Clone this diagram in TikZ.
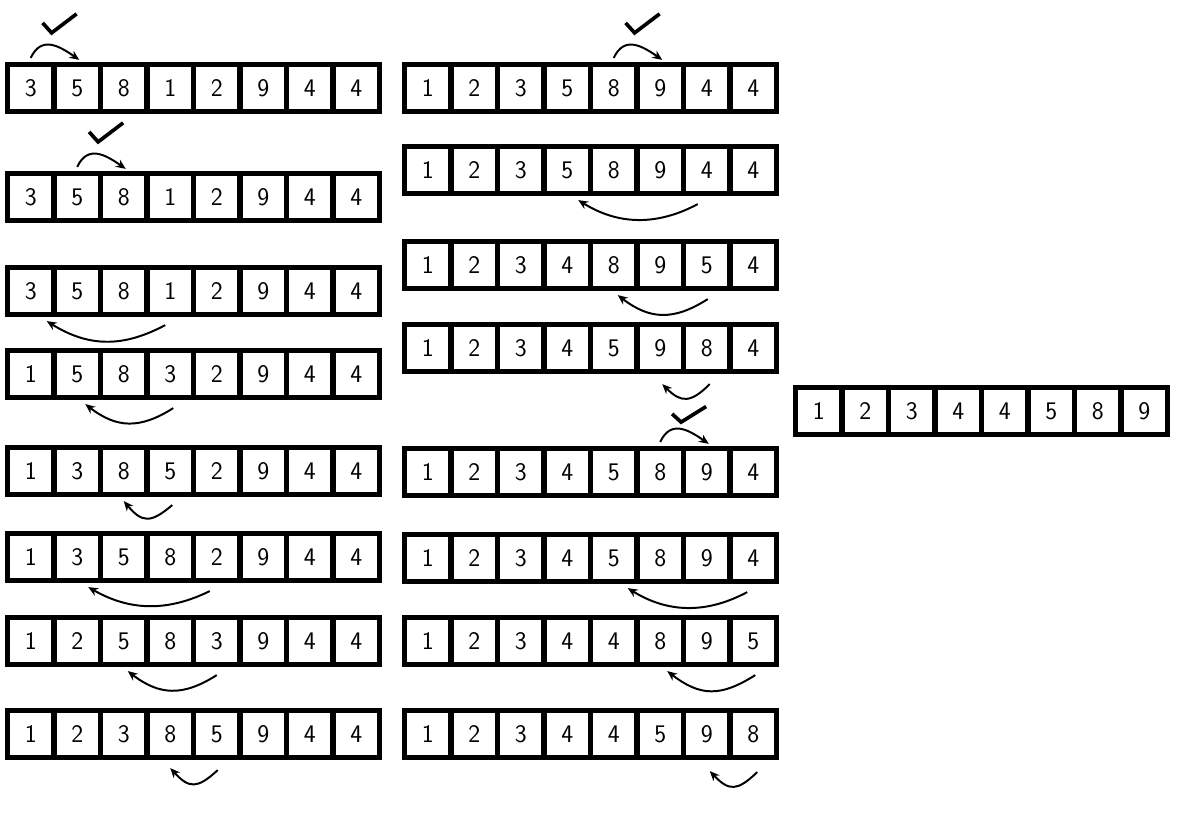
\documentclass[tikz,border=0pt]{standalone}
\usepackage{tikz}
\usetikzlibrary{arrows.meta, calc}
\tikzset{
  cell/.style={
      draw=black,
      line width=3.7pt,
      fill=white,
      rectangle,
      minimum width=1.1625cm,
      minimum height=1.175cm,
      inner sep=0pt,
      font=\sffamily\fontsize{18}{21}\selectfont
  },
  cmparrow/.style={-{Stealth[length=7pt,width=6pt]}, line width=1.4pt},
  swaparrow/.style={-{Stealth[length=7pt,width=6pt]}, line width=1.4pt},
  tick/.style={line width=2.6pt}
}
% one row of eight cells: name, x of first cell, y, values
\newcommand{\cellrow}[4]{%
  \foreach \v [count=\i] in {#4}
    \node[cell] (#1-\i) at ({#2+46.5*(\i-1)}, #3) {\v};
}
% comparison of two neighbouring cells: left cell, right cell, tick height
\newcommand{\cmpmark}[3]{%
  \coordinate (m) at (#1.north east);
  \draw[cmparrow] ($(#1.north)+(0,4)$) to[out=65, in=145, looseness=1.3] ($(#2.north)+(2,2)$);
  \begin{scope}[shift={(m)}, yscale=#3]
    \draw[tick] (-14,39) -- (-5,29) -- (20,48);
  \end{scope}
}
\begin{document}
\begin{tikzpicture}[x=0.025cm, y=0.025cm]
  \useasboundingbox (0,0) rectangle (1180,-820);

  % Left column
  \cellrow{L1}{30.75}{-88}{3,5,8,1,2,9,4,4}
  \cellrow{L2}{30.75}{-197}{3,5,8,1,2,9,4,4}
  \cellrow{L3}{30.75}{-291}{3,5,8,1,2,9,4,4}
  \cellrow{L4}{30.75}{-374}{1,5,8,3,2,9,4,4}
  \cellrow{L5}{30.75}{-471}{1,3,8,5,2,9,4,4}
  \cellrow{L6}{30.75}{-557}{1,3,5,8,2,9,4,4}
  \cellrow{L7}{30.75}{-641}{1,2,5,8,3,9,4,4}
  \cellrow{L8}{30.75}{-734}{1,2,3,8,5,9,4,4}

  % Right column
  \cellrow{R1}{427.75}{-88}{1,2,3,5,8,9,4,4}
  \cellrow{R2}{427.75}{-170}{1,2,3,5,8,9,4,4}
  \cellrow{R3}{427.75}{-265}{1,2,3,4,8,9,5,4}
  \cellrow{R4}{427.75}{-348}{1,2,3,4,5,9,8,4}
  \cellrow{R5}{427.75}{-472}{1,2,3,4,5,8,9,4}
  \cellrow{R6}{427.75}{-558}{1,2,3,4,5,8,9,4}
  \cellrow{R7}{427.75}{-641}{1,2,3,4,4,8,9,5}
  \cellrow{R8}{427.75}{-734}{1,2,3,4,4,5,9,8}

  % Result
  \cellrow{F}{818.75}{-411}{1,2,3,4,4,5,8,9}

  % Comparisons
  \cmpmark{L1-1}{L1-2}{1}
  \cmpmark{L2-2}{L2-3}{1}
  \cmpmark{R1-5}{R1-6}{1}
  \cmpmark{R5-6}{R5-7}{0.82}

  % Swaps
  \draw[swaparrow] ($(L3-4.south)+(-5,-8)$) to[bend left=30, looseness=1.05] ($(L3-1.south)+(16,-4)$);
  \draw[swaparrow] ($(L4-4.south)+(3,-8)$) to[bend left=35, looseness=1.15] ($(L4-2.south)+(8,-4)$);
  \draw[swaparrow] ($(L5-4.south)+(2,-8)$) to[bend left=45, looseness=1.5] ($(L5-3.south)+(0,-4)$);
  \draw[swaparrow] ($(L6-5.south)+(-7,-8)$) to[bend left=28, looseness=1.0] ($(L6-2.south)+(11,-4)$);
  \draw[swaparrow] ($(L7-5.south)+(0,-8)$) to[bend left=35, looseness=1.15] ($(L7-3.south)+(4,-4)$);
  \draw[swaparrow] ($(L8-5.south)+(1,-10)$) to[bend left=45, looseness=1.5] ($(L8-4.south)+(0,-8)$);

  \draw[swaparrow] ($(R2-7.south)+(-9,-8)$) to[bend left=30, looseness=1.0] ($(R2-4.south)+(11,-4)$);
  \draw[swaparrow] ($(R3-7.south)+(1,-8)$) to[bend left=35, looseness=1.15] ($(R3-5.south)+(4,-4)$);
  \draw[swaparrow] ($(R4-7.south)+(3,-10)$) to[bend left=45, looseness=1.45] ($(R4-6.south)+(2,-10)$);
  \draw[swaparrow] ($(R6-8.south)+(-6,-8)$) to[bend left=30, looseness=1.0] ($(R6-5.south)+(14,-4)$);
  \draw[swaparrow] ($(R7-8.south)+(2,-8)$) to[bend left=35, looseness=1.2] ($(R7-6.south)+(7,-4)$);
  \draw[swaparrow] ($(R8-8.south)+(4,-12)$) to[bend left=45, looseness=1.5] ($(R8-7.south)+(3,-11)$);
\end{tikzpicture}
\end{document}
